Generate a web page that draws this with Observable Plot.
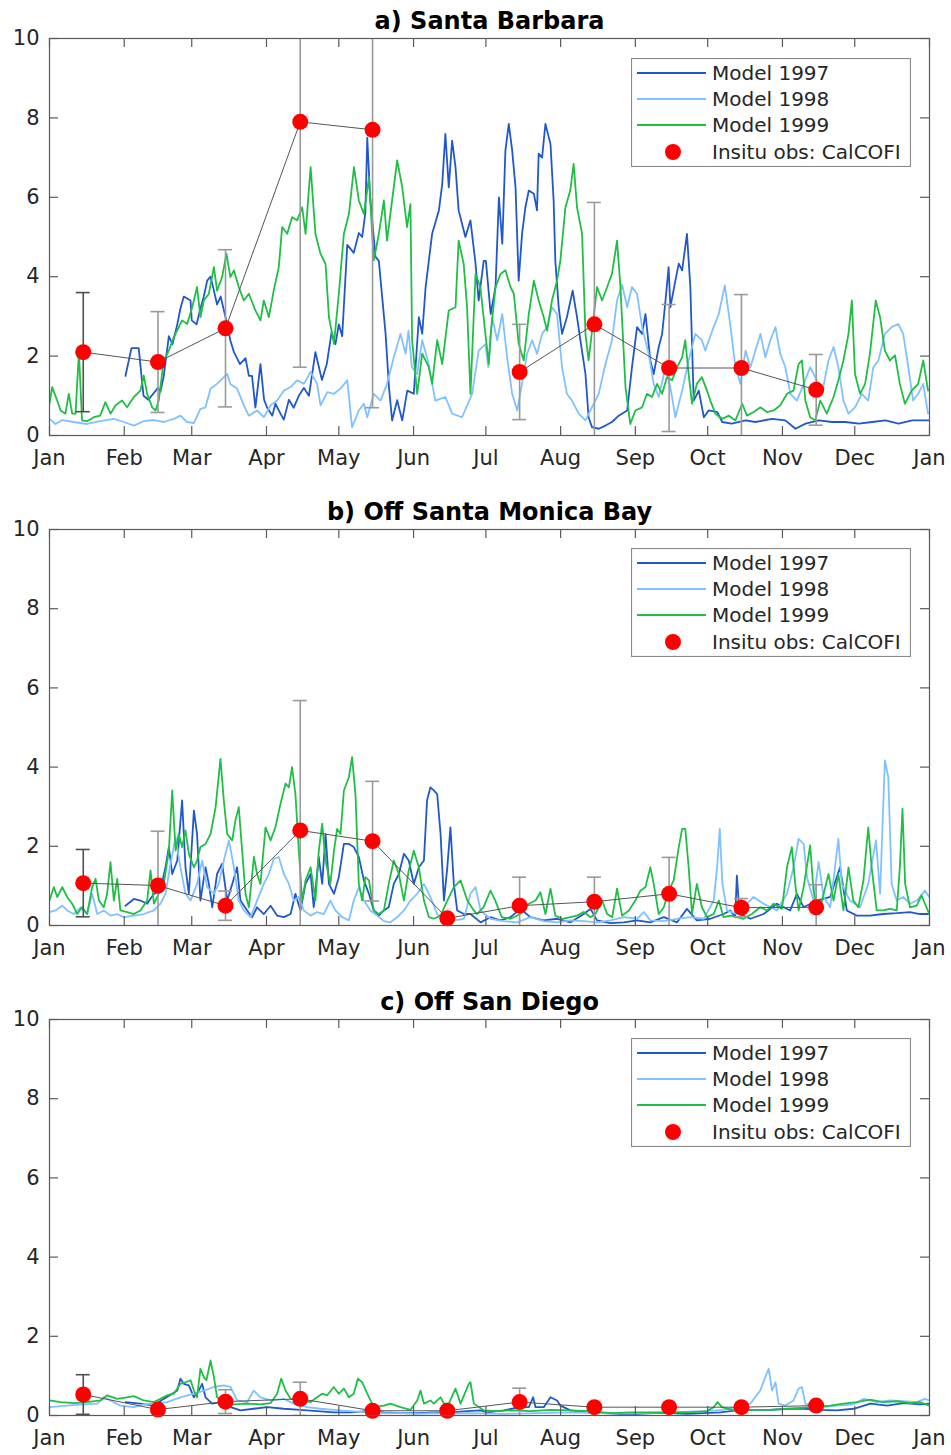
<!DOCTYPE html>
<html>
<head>
<meta charset="utf-8">
<script src="https://cdn.jsdelivr.net/npm/d3@7"></script>
<script src="https://cdn.jsdelivr.net/npm/@observablehq/plot@0.6"></script>
<style>
  body { margin: 0; background: #fff; font-family: "DejaVu Sans", sans-serif; }
  #chart { width: 951px; }
  .panel { position: relative; width: 951px; }
  .panel svg.plot { display: block; }
  .legend { position: absolute; left: 631px; top: 58px; }
</style>
</head>
<body>
<div id="chart"></div>
<script>
// ---- axes ----
const monthTicks = [0, 31, 59, 90, 120, 151, 181, 212, 243, 273, 304, 334, 365];
const monthLabels = ["Jan", "Feb", "Mar", "Apr", "May", "Jun", "Jul", "Aug", "Sep", "Oct", "Nov", "Dec", "Jan"];
const yTicks = [0, 2, 4, 6, 8, 10];

// ---- series ----
const seriesNames = ["Model 1997", "Model 1998", "Model 1999"];
const obsName = "Insitu obs: CalCOFI";
const panelTitles = ["a) Santa Barbara", "b) Off Santa Monica Bay", "c) Off San Diego"];

// CalCOFI cruise days (day of year) and mean ± std per station
const obsDays = [14, 45, 73, 104, 134, 165, 195, 226, 257, 287, 318];
const sbObsMean = [2.1, 1.85, 2.7, 7.9, 7.7, null, 1.6, 2.8, 1.7, 1.7, 1.15];
const sbObsStd  = [1.5, 1.27, 1.98, 6.18, 7.0, null, 1.2, 3.07, 1.6, 1.85, 0.89];
const smObsMean = [1.07, 1.01, 0.5, 2.4, 2.13, 0.18, 0.5, 0.6, 0.8, 0.45, 0.46];
const smObsStd  = [0.85, 1.37, 0.37, 3.28, 1.51, 0.08, 0.72, 0.62, 0.92, 0.23, 0.57];
const sdObsMean = [0.53, 0.15, 0.35, 0.42, 0.12, 0.12, 0.34, 0.21, 0.21, 0.21, 0.25];
const sdObsStd  = [0.5, 0.05, 0.3, 0.42, 0.05, 0.05, 0.35, 0.05, 0.05, 0.05, 0.05];

// Model daily surface chlorophyll, [day of year, value]
const sbModel1997 = [[31.5,1.5],[34,2.2],[37,2.2],[39,1.0],[41,0.9],[45,1.2],[46,1.1],[47.4,1.5],[49.5,2.5],[51,2.3],[53,2.8],[54.3,3.2],[55.7,3.5],[58.5,3.4],[59,2.9],[61,2.8],[62.6,3.2],[64,3.5],[65.4,3.9],[66.8,4.0],[68,3.7],[69.5,3.3],[71,3.5],[73.7,2.8],[75,2.4],[76.5,2.1],[79,1.8],[81.3,1.95],[82.7,1.5],[84,1.5],[85.4,0.7],[87.5,1.8],[89,0.9],[90.3,0.7],[92.4,0.5],[93.7,0.8],[95.8,0.55],[97.2,0.4],[99.3,0.9],[101.3,0.7],[103.4,1.0],[105.5,1.2],[107.6,1.0],[110.3,2.1],[113,1.4],[115,1.8],[117,2.6],[118.6,2.3],[120,2.8],[121.4,2.5],[123.5,4.8],[126.2,4.6],[128.3,5.1],[129.7,5.0],[131,5.6],[131.8,7.5],[133,6.0],[135.2,4.5],[136.6,4.4],[139.4,2.56],[140.8,1.22],[142.1,0.38],[144.2,0.89],[146.3,0.38],[148.4,1.13],[151.1,1.05],[153.2,2.98],[154.6,2.56],[156,3.74],[158.7,5.08],[161.5,5.67],[162.9,6.34],[164.2,7.6],[165.6,6.25],[167,7.43],[168.4,6.76],[169.7,5.67],[172.5,5.0],[174.6,5.42],[176.7,4.33],[178,3.4],[180.1,4.4],[181,4.4],[183,3.06],[185,3.74],[186.4,6.0],[187.8,4.83],[189.1,7.18],[190.5,7.85],[191.9,7.18],[193.3,6.25],[194.6,3.9],[196,5.08],[197.4,5.75],[198.8,6.17],[200.9,6.09],[202.2,5.67],[202.9,7.1],[204.3,7.0],[205.7,7.85],[207.8,7.34],[209.1,5.92],[209.8,4.4],[211.2,3.23],[212.6,2.56],[214.6,2.98],[217,3.65],[218.8,2.98],[220.2,2.4],[222.3,1.55],[223.6,0.46],[225,0.21],[227.8,0.17],[230.6,0.25],[233.3,0.34],[236.1,0.5],[239.6,0.63],[241.6,1.72],[243.7,2.73],[245.8,2.56],[247.2,3.06],[249.2,1.89],[250.6,1.55],[252.7,2.23],[254.1,2.56],[255.5,3.4],[256.8,4.24],[257.5,3.23],[259.6,3.9],[261,4.33],[262.4,4.16],[264.4,5.08],[265.8,3.74],[267.2,0.88],[269.3,1.13],[271.4,0.46],[273.4,0.63],[277,0.59],[279,0.34],[283,0.3],[288.7,0.38],[292.8,0.34],[299.7,0.42],[305.2,0.38],[309.4,0.17],[313.6,0.3],[319.1,0.38],[324.6,0.34],[330.1,0.34],[335.7,0.3],[341.2,0.34],[346.7,0.38],[352.2,0.3],[357.8,0.38],[364.7,0.38]];
const sbModel1998 = [[0,0.42],[2.5,0.29],[5.3,0.39],[10,0.34],[15.6,0.29],[21,0.36],[26.7,0.42],[30.8,0.34],[35,0.25],[39,0.36],[43.3,0.39],[47.4,0.34],[51.6,0.42],[54.3,0.5],[57,0.34],[59.9,0.31],[62.6,0.67],[64.7,0.71],[66.8,1.18],[69.5,1.3],[72.3,1.47],[73.7,1.55],[75,1.3],[77.8,1.18],[80.6,0.76],[82.7,0.5],[86.1,0.63],[88.9,0.46],[91.7,0.76],[94.4,0.88],[97.2,1.13],[100,1.22],[102.7,1.39],[105.5,1.3],[108.3,1.6],[111,1.3],[112.4,0.76],[115.2,1.09],[118,1.05],[120.7,1.18],[123.5,1.39],[125.5,0.21],[128.3,0.63],[130.4,0.8],[131.8,0.46],[134.5,1.05],[137.3,0.88],[140,1.3],[142.8,1.97],[145.6,2.56],[147.7,2.06],[148.9,2.64],[150.3,1.72],[152.5,1.55],[154.6,2.4],[157.3,1.8],[160,0.88],[164.2,0.97],[167,0.55],[171.1,0.46],[175.3,1.05],[178,2.14],[180.8,2.3],[182,1.72],[183.6,2.98],[185.7,2.4],[187.8,3.06],[189.8,1.97],[191.9,1.05],[194,0.63],[196,1.3],[198.1,2.06],[200.2,2.4],[202.2,2.06],[204.3,2.56],[206.4,2.73],[208.4,3.23],[210.5,3.06],[212.6,1.72],[214.6,1.05],[216.7,0.88],[219.5,0.55],[222.3,0.38],[225,0.71],[227.8,1.05],[230.6,1.8],[233.3,2.4],[235.4,3.4],[237.5,3.8],[239.6,3.23],[241.6,3.74],[243.7,3.57],[245.8,2.73],[248.5,2.06],[250.6,1.3],[252.7,0.97],[255.5,1.72],[257.5,1.22],[259.6,0.46],[262.4,1.13],[265.1,1.89],[267.9,2.56],[270.6,2.4],[272,2.14],[274.9,2.64],[277.6,3.06],[280.1,3.78],[282.5,2.73],[284.5,1.72],[286.6,1.3],[288.7,2.14],[290.7,1.72],[292.8,2.14],[294.9,2.56],[296.9,1.97],[299,2.4],[301.1,2.73],[303.1,2.06],[305.2,1.72],[307.3,1.05],[310,0.88],[312.8,1.3],[315.5,1.72],[318.3,1.39],[320.4,1.05],[323.1,1.89],[325.2,2.23],[327.2,1.72],[329.3,0.88],[331.4,0.55],[334.1,0.71],[336.9,1.05],[339.6,0.88],[341.7,1.72],[343.8,1.89],[346.5,2.56],[349.3,2.73],[352,2.81],[354.1,2.56],[356.2,1.72],[358.2,0.88],[360.3,1.05],[362.4,1.3],[364.4,0.55]];
const sbModel1999 = [[0,0.8],[1.1,1.22],[3.2,0.88],[4.6,0.63],[6.6,0.55],[8,1.05],[9.4,0.55],[10.8,0.55],[12.2,2.1],[13.5,0.38],[15.6,0.36],[18.4,0.46],[21,0.5],[23.2,0.84],[25.3,0.55],[27.4,0.76],[30.1,0.88],[32.2,0.71],[35,0.97],[37.7,1.13],[39.1,1.51],[40.5,1.05],[42.6,0.71],[44,0.63],[45.3,0.88],[47.4,1.89],[49.5,2.14],[51.6,2.48],[53.6,2.73],[55,2.9],[57.1,2.81],[59.2,3.23],[61.2,3.74],[62.6,2.98],[64,3.4],[66.1,3.57],[68.2,4.24],[69.5,3.65],[71.6,3.99],[73.4,4.58],[75,3.99],[76.5,4.16],[78.5,3.74],[80.6,3.4],[82.7,3.57],[85.4,3.15],[87.5,2.9],[88.9,3.4],[91,2.98],[93,3.65],[95.1,4.24],[96.5,5.25],[98.6,5.08],[100.6,5.5],[102.7,5.42],[104.8,5.75],[106.2,5.08],[108.3,6.76],[110.3,5.08],[112.4,4.58],[114.5,4.32],[115.9,2.98],[118,2.31],[120,3.57],[122.1,5.08],[124.2,5.58],[126.3,6.76],[128.3,5.92],[130.4,5.58],[132.5,6.5],[134.5,4.41],[136.6,5.08],[138.7,5.92],[140,4.91],[142.1,5.92],[144.2,6.93],[146.3,6.26],[148.3,5.25],[149.7,5.83],[150.4,2.4],[152.5,1.05],[154.6,2.06],[157.3,1.72],[158.7,1.3],[160.8,2.4],[162.9,1.8],[165.6,3.15],[168.4,3.23],[169.7,4.91],[171.8,4.32],[173.2,3.23],[174.6,1.05],[176.7,4.07],[178.7,3.74],[180.8,2.56],[182.2,1.8],[183,2.56],[185,3.74],[187.1,4.07],[189.1,4.16],[191.2,3.74],[192.6,3.57],[194.6,2.31],[196.7,1.89],[198.8,3.06],[200.9,3.9],[202.9,3.4],[205,2.98],[206.4,2.64],[208.4,3.4],[210.5,3.9],[211.9,4.41],[214,5.75],[216,6.17],[217.4,6.84],[218.8,5.75],[220.9,5.08],[222.3,2.56],[223.6,1.89],[225.7,2.98],[227.1,3.74],[229.2,3.4],[231.3,3.74],[233.3,4.07],[235.4,4.91],[236.8,3.74],[238.9,1.22],[240.9,0.29],[243,0.63],[245.8,0.71],[247.8,1.05],[249.9,0.97],[252,1.3],[254.1,1.05],[256.1,1.47],[258.2,1.39],[260.3,1.72],[262.4,1.97],[263.7,2.4],[265.1,1.55],[266.5,0.8],[268.5,1.3],[270.6,1.47],[272.7,1.13],[274.1,0.88],[276.2,0.55],[279,0.42],[281.8,0.5],[284.5,0.38],[287.3,0.8],[289.3,0.5],[292.1,0.59],[294.9,0.71],[297.6,0.59],[300.4,0.63],[303.1,0.76],[305.9,1.05],[308.6,1.13],[310.7,1.8],[312.1,1.89],[313.5,0.88],[315.5,0.46],[317.6,0.38],[319.7,0.88],[322.4,0.55],[325.2,0.97],[327.2,1.39],[329.3,1.89],[331.4,2.56],[332.8,3.4],[334.1,1.55],[336.2,1.05],[338.3,1.3],[340.3,2.06],[342.7,3.4],[344.5,2.98],[346.5,2.14],[348.6,1.89],[350.7,2.02],[352.7,1.3],[354.8,0.8],[357.6,1.13],[360.3,1.3],[362.4,1.89],[364.4,1.13]];

const smModel1997 = [[31.5,0.5],[35,0.67],[37.7,0.63],[40.5,0.55],[43.3,0.8],[46,0.88],[48.1,1.47],[49.5,1.98],[50.9,1.3],[53,1.64],[55,3.16],[56.4,1.47],[57.8,0.8],[59.9,2.9],[61.2,2.31],[62.6,0.63],[64.7,1.47],[66.1,1.05],[67.5,0.46],[69.5,1.3],[71.6,1.56],[73.7,0.63],[75.8,1.05],[77.8,1.47],[79.2,0.63],[82,0.38],[84,0.21],[86.1,0.46],[88.9,0.29],[91.7,0.5],[94.4,0.25],[97.2,0.21],[100,0.29],[102,0.8],[104.1,0.38],[106.2,1.05],[108.3,1.3],[109.6,0.46],[111.7,1.73],[113.1,1.05],[114.5,2.31],[115.9,1.05],[118,0.8],[120,1.22],[122.1,2.06],[124.2,2.06],[126.2,1.98],[128.3,1.73],[130.4,1.14],[132.5,0.8],[134.5,0.38],[136.6,0.25],[138.7,0.38],[140.7,0.46],[142.8,1.05],[144.9,1.3],[147,1.81],[149,1.64],[151.1,1.05],[153.2,1.47],[155.3,1.64],[156.6,3.16],[158,3.49],[159.4,3.41],[160.8,3.32],[162.2,2.31],[163.6,0.63],[165,1.47],[166.3,2.48],[167.7,1.05],[169.1,0.38],[171.9,0.29],[174.6,0.29],[178.8,0.08],[182.9,0.21],[187,0.13],[191.2,0.21],[195.3,0.42],[199.5,0.21],[205,0.13],[210.5,0.17],[216.1,0.08],[221.6,0.29],[224.4,0.42],[227.1,0.13],[232.7,0.06],[238.2,0.08],[243.7,0.13],[249.2,0.08],[254.8,0.21],[260.3,0.08],[264.4,0.42],[268.5,0.13],[274.1,0.17],[279.6,0.29],[282.4,0.38],[284.4,0.21],[285.1,1.26],[286.2,0.29],[290.7,0.17],[296.2,0.29],[301.7,0.55],[307.2,0.38],[310,0.8],[312.8,0.46],[318.3,0.63],[323.8,0.72],[327.9,1.47],[330.7,0.38],[334.8,0.25],[340.3,0.25],[345.8,0.29],[351.4,0.31],[356.9,0.34],[361,0.29],[364.5,0.29]];
const smModel1998 = [[0,0.34],[2.5,0.38],[5.3,0.5],[7.3,0.38],[10.1,0.29],[12.9,0.46],[15.6,0.29],[17.7,0.8],[19.8,0.29],[22.5,0.38],[25.3,0.25],[28.1,0.29],[30.8,0.21],[35,0.25],[39.1,0.29],[43.3,0.38],[46,0.55],[48.1,0.8],[50.2,1.56],[52.3,2.23],[54.3,1.47],[56.4,0.8],[58.5,0.63],[61.2,1.05],[63.3,1.64],[65.4,0.97],[68.2,0.8],[70.2,1.05],[72.3,1.64],[74.4,2.15],[76.5,1.47],[78.5,0.63],[80.6,0.38],[83.4,0.21],[86.1,0.63],[88.9,1.05],[91,1.3],[93,1.68],[95.1,1.73],[97.2,1.3],[99.3,1.05],[101.3,0.63],[103.4,0.72],[105.5,0.38],[108.3,0.25],[111,0.34],[113.8,0.29],[116.5,0.63],[118.6,0.38],[121.4,0.21],[124.2,0.13],[126.2,0.63],[128.3,0.97],[130.4,0.63],[133.1,0.38],[135.9,0.25],[138.7,0.11],[141.4,0.08],[144.2,0.21],[147,0.38],[149.7,0.63],[152.5,0.8],[155.3,1.05],[158,0.72],[160.8,0.29],[163.6,0.17],[167.7,0.13],[171.9,0.17],[174.6,0.8],[176.7,0.97],[178.8,0.38],[182.9,0.17],[188.4,0.11],[193.9,0.08],[199.5,0.21],[205,0.11],[210.5,0.08],[216.1,0.13],[221.6,0.11],[227.1,0.08],[232.7,0.13],[238.2,0.21],[243.7,0.17],[246.5,0.34],[249.2,0.13],[254.8,0.11],[260.3,0.17],[265.8,0.21],[271.4,0.17],[275.5,0.63],[276.9,1.47],[278,2.44],[279.1,1.05],[281,0.38],[285.1,0.29],[287.9,0.46],[292,0.72],[296.2,0.55],[301.7,0.38],[305.9,0.8],[308.6,1.47],[310.7,2.19],[312.8,2.06],[314.2,1.22],[316.9,0.63],[319,1.6],[321.1,0.72],[323.8,0.46],[327.2,2.19],[328.6,1.05],[332,0.63],[336.2,0.46],[339.6,1.05],[342.8,2.15],[344.5,0.8],[346.5,4.17],[347.9,3.75],[349.3,1.05],[351.4,0.63],[354.1,0.72],[356.9,0.55],[359.7,0.63],[363.1,0.88],[364.9,0.72]];
const smModel1999 = [[0,0.63],[1.8,0.97],[3.2,0.72],[5.3,0.97],[7.3,0.72],[9.4,0.55],[11.5,0.29],[13.5,0.46],[15.6,0.29],[17.7,0.97],[19.1,1.18],[20.5,0.63],[22.5,0.46],[23.9,0.8],[25.3,1.6],[26.7,0.63],[28.1,1.18],[29.4,0.38],[32.2,0.34],[35,0.29],[37.7,0.38],[40.5,0.63],[41.9,1.39],[43.3,0.55],[45.3,0.8],[47.4,1.05],[49.5,1.89],[50.9,3.41],[52.3,1.89],[53.6,2.31],[55,1.98],[56.4,2.4],[57.8,1.81],[59.9,1.47],[61.2,1.64],[62.6,1.98],[64.7,2.06],[66.8,2.31],[68.9,2.99],[70.9,4.21],[72.3,3.16],[73.7,2.31],[75.8,2.15],[77.1,2.65],[78.5,2.99],[79.9,1.89],[81.3,0.8],[82.7,0.46],[84.8,1.73],[86.1,1.3],[87.5,1.05],[89.6,2.48],[91.7,2.15],[93.7,2.48],[95.8,3.07],[97.9,3.58],[99.3,3.49],[100.6,4.0],[102,3.32],[103.4,1.89],[104.8,0.63],[106.2,1.14],[108.3,1.47],[110.3,0.63],[111.7,1.89],[113.1,2.57],[114.5,1.64],[116.5,1.05],[118,1.89],[119.3,2.44],[120.7,2.31],[122.1,3.41],[124.2,3.75],[125.5,4.25],[126.9,3.32],[128.3,1.05],[129.7,0.63],[131,1.22],[132.5,1.14],[134.5,0.38],[136.6,0.29],[138.7,0.38],[140.7,1.05],[142.8,1.64],[144.9,1.3],[147,0.63],[149,1.39],[151.1,1.89],[153.2,1.47],[155.3,0.63],[157.4,0.21],[159.4,0.17],[162.2,0.25],[165,0.63],[167.7,0.97],[170.5,1.14],[173.3,0.63],[176,0.38],[177.3,0.29],[180,0.46],[182.9,0.88],[184.9,0.63],[187.6,0.21],[191.2,0.17],[195.3,0.29],[198.8,0.55],[201.6,0.63],[203.6,0.84],[205.7,0.29],[207.8,0.93],[209.8,0.25],[212.6,0.17],[216.1,0.21],[218.8,0.25],[221.6,0.34],[224.4,0.21],[226.4,0.29],[229.2,0.63],[231.3,0.29],[233.4,0.21],[235.4,0.93],[237.5,0.25],[240.3,0.38],[243,0.63],[245.1,0.88],[247.2,0.97],[249.2,1.47],[250.6,1.05],[252.7,0.29],[254.8,0.46],[256.8,0.88],[258.9,1.14],[261,1.98],[262.4,2.44],[263.7,2.44],[265.1,1.47],[266.5,0.29],[268.5,1.05],[270.6,0.46],[272.7,0.21],[275.5,0.29],[277.6,0.63],[279.6,0.21],[282.4,0.25],[285.1,0.21],[287.9,0.17],[291.3,0.29],[294.8,0.46],[297.6,0.38],[300.4,0.55],[303.8,0.42],[305.9,1.47],[307.9,1.98],[309.3,1.05],[310.7,0.38],[312.8,0.97],[315.5,2.02],[316.9,0.88],[319,0.29],[321.1,0.8],[323.1,1.3],[325.2,0.63],[327.2,1.3],[329.3,0.38],[331.4,1.47],[333.4,0.63],[335.5,0.46],[337.6,1.14],[339.6,2.48],[341,1.47],[343.1,0.38],[345.8,0.38],[348.6,0.42],[351.4,0.38],[352.7,1.47],[353.8,2.95],[354.9,1.05],[356.9,0.46],[359.7,0.5],[361.7,0.76],[363.1,0.55],[364.9,0.29]];

const sdModel1997 = [[31.5,0.34],[37.7,0.3],[43.3,0.25],[47.4,0.42],[50.9,0.55],[53,0.63],[54.3,0.93],[55.7,0.8],[57.8,0.76],[59.9,0.46],[61.9,0.63],[63.3,0.8],[64.7,0.46],[67.5,0.3],[70.9,0.34],[75.1,0.21],[79.2,0.13],[84.7,0.17],[90.3,0.21],[97.2,0.17],[104.1,0.14],[111,0.11],[117.9,0.08],[124.8,0.08],[131.8,0.11],[138.7,0.08],[145.6,0.06],[152.5,0.06],[159.4,0.08],[166.3,0.08],[173.2,0.11],[178.8,0.13],[181.5,0.08],[188.4,0.13],[195.3,0.21],[198.8,0.21],[200.6,0.46],[201.6,0.21],[205,0.21],[207.8,0.46],[210.5,0.38],[211.9,0.25],[216.1,0.13],[223,0.08],[229.9,0.06],[236.8,0.04],[243.7,0.04],[250.6,0.06],[257.5,0.06],[264.4,0.04],[271.4,0.06],[278.3,0.08],[285.1,0.13],[292,0.14],[299,0.14],[305.9,0.17],[312.8,0.17],[319.7,0.14],[326.6,0.13],[333.5,0.17],[340.5,0.3],[347.4,0.25],[354.3,0.31],[361.2,0.28],[364.9,0.3]];
const sdModel1998 = [[0,0.21],[7.3,0.25],[14.2,0.28],[19.8,0.3],[22.5,0.46],[25.3,0.38],[29.4,0.25],[35,0.21],[39.1,0.28],[43.3,0.3],[48.8,0.34],[54.3,0.46],[59.9,0.55],[64,0.63],[68.2,0.72],[72.3,0.76],[75.1,0.72],[77.8,0.38],[82,0.34],[84.7,0.63],[87.5,0.46],[91.7,0.38],[97.2,0.42],[101.3,0.3],[106.9,0.21],[112.4,0.17],[117.9,0.14],[124.8,0.11],[131.8,0.08],[138.7,0.06],[145.6,0.06],[152.5,0.04],[159.4,0.06],[166.3,0.04],[173.2,0.06],[188.4,0.04],[202.2,0.06],[216.1,0.08],[229.9,0.06],[243.7,0.06],[257.5,0.08],[271.4,0.11],[279.6,0.14],[285.1,0.21],[290.7,0.3],[294.8,0.63],[296.9,0.97],[298.3,1.18],[299.7,0.63],[301.1,0.84],[302.4,0.3],[305.2,0.25],[308.6,0.38],[310.7,0.68],[312.1,0.72],[313.5,0.3],[316.9,0.21],[321.1,0.21],[326.6,0.25],[333.5,0.28],[337.6,0.42],[343.1,0.34],[348.6,0.38],[354.1,0.36],[359.7,0.34],[363.1,0.42],[364.9,0.38]];
const sdModel1999 = [[0,0.38],[4.6,0.34],[10.1,0.31],[15.6,0.34],[21.2,0.38],[23.9,0.51],[28.1,0.42],[32.2,0.46],[35,0.49],[39.1,0.38],[43.3,0.34],[46,0.42],[48.8,0.51],[51.6,0.55],[54.3,0.8],[56.4,0.84],[58.5,0.89],[59.9,0.63],[61.2,0.46],[62.6,1.18],[64,0.97],[65.1,0.89],[66.8,1.39],[68.2,0.97],[69.5,0.46],[72.3,0.34],[76.5,0.28],[82,0.3],[87.5,0.28],[91.7,0.31],[94.4,0.55],[96.1,0.93],[97.9,0.63],[100,0.42],[104.1,0.38],[108.3,0.34],[111,0.46],[113.1,0.55],[115.2,0.51],[117.9,0.72],[120,0.55],[122.1,0.68],[124.2,0.46],[126.2,0.55],[127.9,0.93],[129.7,0.84],[131.8,0.55],[134.5,0.21],[138.7,0.25],[141.4,0.3],[145.6,0.21],[149.7,0.14],[152.5,0.38],[153.9,0.63],[155.3,0.3],[158,0.38],[159.4,0.3],[162.2,0.46],[163.6,0.3],[165.6,0.3],[168.4,0.68],[170.5,0.3],[173.9,0.8],[174.6,0.84],[176,0.3],[180.1,0.13],[185.7,0.11],[191.2,0.13],[199.5,0.11],[207.8,0.14],[216.1,0.13],[224.4,0.11],[232.7,0.06],[241,0.08],[249.2,0.08],[257.5,0.08],[265.8,0.08],[272.7,0.11],[275.5,0.21],[277.1,0.34],[278.9,0.21],[283.7,0.13],[290.7,0.14],[299,0.14],[307.2,0.17],[315.5,0.21],[323.8,0.25],[329.3,0.3],[334.8,0.34],[340.3,0.4],[345.8,0.34],[351.4,0.36],[356.9,0.31],[361,0.34],[364.9,0.25]];

// ---- styling ----
const seriesColors = ["#2058cc", "#80c2ff", "#1fbf45"];
const obsColor = "#ff0000";
const axisColor = "#5a5a5a";
const textColor = "#262626";

const panels = [
  {title: panelTitles[0], models: [sbModel1997, sbModel1998, sbModel1999], mean: sbObsMean, std: sbObsStd, height: 490, marginTop: 38},
  {title: panelTitles[1], models: [smModel1997, smModel1998, smModel1999], mean: smObsMean, std: smObsStd, height: 490, marginTop: 39},
  {title: panelTitles[2], models: [sdModel1997, sdModel1998, sdModel1999], mean: sdObsMean, std: sdObsStd, height: 475, marginTop: 39}
];

const monthLabelOf = new Map(monthTicks.map((t, i) => [t, monthLabels[i]]));

function legendBox() {
  const w = 280, h = 109;
  const svg = d3.create("svg").attr("width", w).attr("height", h)
    .style("font-family", "'DejaVu Sans', sans-serif").style("font-size", "20px");
  svg.append("rect").attr("x", 0.5).attr("y", 0.5).attr("width", w - 1).attr("height", h - 1)
    .attr("fill", "white").attr("stroke", "#8a8a8a").attr("stroke-width", 1.2);
  const rows = [15, 41, 67, 94];
  seriesNames.forEach((name, i) => {
    svg.append("line").attr("x1", 6).attr("x2", 75).attr("y1", rows[i]).attr("y2", rows[i])
      .attr("stroke", seriesColors[i]).attr("stroke-width", 2);
    svg.append("text").attr("x", 81).attr("y", rows[i]).attr("dy", "0.36em").attr("fill", textColor).text(name);
  });
  svg.append("circle").attr("cx", 42).attr("cy", rows[3]).attr("r", 8).attr("fill", obsColor);
  svg.append("text").attr("x", 81).attr("y", rows[3]).attr("dy", "0.36em").attr("fill", textColor).text(obsName);
  return svg.node();
}

function makePanel(p) {
  const marginBottom = p.height - 435;
  const plotH = p.height - p.marginTop - marginBottom;
  const plotW = 951 - 49 - 22;
  const obs = obsDays.map((day, i) => ({day, mean: p.mean[i], sd: p.std[i]}));
  const obsValid = obs.filter(d => d.mean != null);
  const capHalf = 2.9;
  const errStroke = (d) => d.day === obsDays[0] ? "#505050" : "#9a9a9a";

  const chart = Plot.plot({
    width: 951,
    height: p.height,
    marginLeft: 49,
    marginRight: 22,
    marginTop: p.marginTop,
    marginBottom,
    style: {fontFamily: "'DejaVu Sans', sans-serif", fontSize: "21px", color: textColor, background: "white"},
    x: {domain: [0, 365]},
    y: {domain: [0, 10]},
    marks: [
      ...p.models.map((m, i) => Plot.line(m, {x: d => d[0], y: d => d[1], stroke: seriesColors[i], strokeWidth: 1.8, clip: true})),
      Plot.ruleX(obsValid, {x: "day", y1: d => d.mean - d.sd, y2: d => d.mean + d.sd, stroke: errStroke, strokeWidth: 1.6, clip: true}),
      Plot.ruleY(obsValid, {y: d => d.mean - d.sd, x1: d => d.day - capHalf, x2: d => d.day + capHalf, stroke: errStroke, strokeWidth: 1.6, clip: true}),
      Plot.ruleY(obsValid, {y: d => d.mean + d.sd, x1: d => d.day - capHalf, x2: d => d.day + capHalf, stroke: errStroke, strokeWidth: 1.6, clip: true}),
      Plot.line(obs, {x: "day", y: "mean", stroke: "#555", strokeWidth: 1}),
      Plot.dot(obsValid, {x: "day", y: "mean", r: 8, fill: obsColor, stroke: "none"}),
      Plot.frame({stroke: axisColor, strokeWidth: 1.2}),
      // inward ticks on all four sides
      Plot.tickX(monthTicks, {x: d => d, insetTop: plotH - 9, stroke: axisColor, strokeWidth: 1.2}),
      Plot.tickX(monthTicks, {x: d => d, insetBottom: plotH - 9, stroke: axisColor, strokeWidth: 1.2}),
      Plot.tickY(yTicks, {y: d => d, insetRight: plotW - 9, stroke: axisColor, strokeWidth: 1.2}),
      Plot.tickY(yTicks, {y: d => d, insetLeft: plotW - 9, stroke: axisColor, strokeWidth: 1.2}),
      Plot.axisX({ticks: monthTicks, tickSize: 0, tickPadding: 15, tickFormat: d => monthLabelOf.get(d), label: null, fill: textColor}),
      Plot.axisY({ticks: yTicks, tickSize: 0, tickPadding: 10, label: null, fill: textColor}),
      Plot.text([p.title], {text: d => d, frameAnchor: "top", lineAnchor: "middle", dy: -17, fontWeight: "bold", fontSize: 24, fill: "black"})
    ]
  });
  chart.classList.add("plot");

  const div = document.createElement("div");
  div.className = "panel";
  div.style.height = p.height + "px";
  div.appendChild(chart);
  const leg = document.createElement("div");
  leg.className = "legend";
  leg.appendChild(legendBox());
  div.appendChild(leg);
  return div;
}

const root = document.getElementById("chart");
panels.forEach(p => root.appendChild(makePanel(p)));
</script>
</body>
</html>
